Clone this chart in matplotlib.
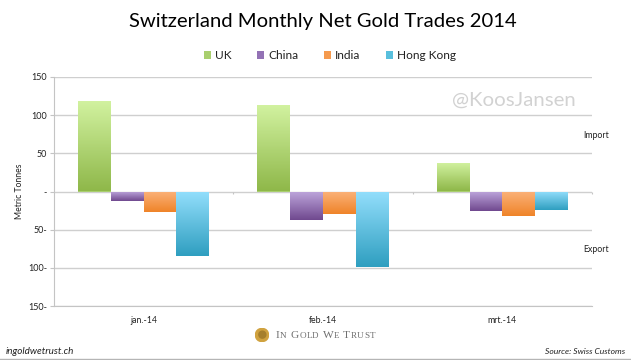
import matplotlib
matplotlib.use("Agg")
import matplotlib.pyplot as plt
from matplotlib.colors import LinearSegmentedColormap
import numpy as np

plt.rcParams["font.family"] = ["Lato", "DejaVu Sans"]

months = ["jan.-14", "feb.-14", "mrt.-14"]
uk = [118, 113, 37]
china = [-12, -37, -26]
india = [-27, -29, -32]
hong_kong = [-85, -99, -24]
y_ticks = [150, 100, 50, 0, -50, -100, -150]
y_labels = ["150", "100", "50", "-", "50-", "100-", "150-"]

W, H = 631, 360


def add_gradient(axes, bar, light, dark):
    # vertical fade laid over the bar and clipped to it
    cmap = LinearSegmentedColormap.from_list("bar", [light, dark])
    x0, y0 = bar.get_xy()
    x1 = x0 + bar.get_width()
    y1 = y0 + bar.get_height()
    img = axes.imshow(
        np.linspace(0, 1, 64).reshape(-1, 1),
        extent=(x0, x1, min(y0, y1), max(y0, y1)),
        cmap=cmap, aspect="auto", origin="upper", zorder=3,
    )
    img.set_clip_path(bar)


def small_caps(fig, x, y, words, big, small, color):
    # serif small caps for the logo line, advancing in pixels
    renderer = fig.canvas.get_renderer()
    for word in words:
        for i, ch in enumerate(word):
            size = big if i == 0 else small
            t = fig.text(x / W, 1 - y / H, ch.upper(), fontsize=size, color=color,
                         family="Liberation Serif", ha="left", va="baseline")
            x += t.get_window_extent(renderer).width + 0.4
        x += 3.5


def main():
    fig = plt.figure(figsize=(W / 100, H / 100), dpi=100, facecolor="white")
    ax = fig.add_axes([54 / W, 1 - 306 / H, 538 / W, 229 / H])

    series = [
        ("UK", uk, "#a9cf6e", "#d2f2a0", "#8fb84a"),
        ("China", china, "#9372b5", "#bea6dc", "#70498f"),
        ("India", india, "#f59a4e", "#fbb27a", "#ef8429"),
        ("Hong Kong", hong_kong, "#58bfdd", "#93defc", "#2f9fc0"),
    ]
    width = 0.183
    x = np.arange(len(months))
    handles = []
    for i, (name, values, mid, light, dark) in enumerate(series):
        bars = ax.bar(x + (i - 1.5) * width, values, width, color=mid, label=name, zorder=2)
        for bar in bars:
            add_gradient(ax, bar, light, dark)
        handles.append(bars)

    ax.set_xlim(-0.5, 2.5)
    ax.set_ylim(-150, 150)
    ax.set_xticks(x)
    ax.set_xticklabels(months, fontsize=6.3, color="#222222")
    ax.tick_params(axis="x", length=0, pad=7)
    ax.set_yticks(y_ticks)
    ax.set_yticklabels(y_labels, fontsize=6.5, color="#222222")
    ax.tick_params(axis="y", length=3, width=0.8, color="#c4c4c4", pad=2)
    ax.set_ylabel("Metric Tonnes", fontsize=6.2, color="#222222", labelpad=0)
    ax.yaxis.set_label_coords(-30 / 538, 0.5)
    ax.grid(True, axis="y", color="#cfcfcf", linewidth=1.0, zorder=0)
    ax.set_axisbelow(True)
    for side in ["top", "right"]:
        ax.spines[side].set_visible(False)
    for side in ["left", "bottom"]:
        ax.spines[side].set_color("#c4c4c4")
    ax.vlines([0.5, 1.5, 2.5], -3, 0, color="#c4c4c4", linewidth=0.8, zorder=1, clip_on=False)

    fig.text(322.5 / W, 1 - 21 / H, "Switzerland Monthly Net Gold Trades 2014",
             fontsize=14.6, color="black", ha="center", va="center")
    fig.legend(handles=handles, loc="center", bbox_to_anchor=(330 / W, 1 - 55.5 / H), ncol=4,
               frameon=False, fontsize=8.6, handlelength=0.6, handleheight=0.6,
               handletextpad=0.35, columnspacing=2.1, labelcolor="#222222")

    fig.text(514 / W, 1 - 100 / H, "@KoosJansen", fontsize=14.7, color="#d2d2d2", ha="center", va="center")
    fig.text(596 / W, 1 - 135 / H, "Import", fontsize=6.3, color="#222222", ha="center", va="center")
    fig.text(596 / W, 1 - 249 / H, "Export", fontsize=6.3, color="#222222", ha="center", va="center")

    coin = fig.add_axes([255 / W, 1 - 342 / H, 14 / W, 14 / H])
    coin.set_xlim(-1, 1)
    coin.set_ylim(-1, 1)
    coin.axis("off")
    coin.add_patch(plt.Circle((0, 0), 0.95, color="#d0a23f"))
    coin.add_patch(plt.Circle((0.05, 0.05), 0.5, color="#a67f2c"))

    fig.canvas.draw()
    small_caps(fig, 276, 338, ["In", "Gold", "We", "Trust"], 8.2, 6.6, "#6f6f6f")

    fig.text(6 / W, 1 - 351 / H, "ingoldwetrust.ch", fontsize=7.1, style="italic", color="#222222", ha="left", va="center")
    fig.text(625 / W, 1 - 351 / H, "Source: Swiss Customs", fontsize=6.1, style="italic", color="#222222", ha="right", va="center")
    fig.add_artist(plt.Line2D([0, 1], [1 - 358.5 / H] * 2, color="#b5b5b5", linewidth=1))

    plt.savefig("out.png", dpi=100)


if __name__ == "__main__":
    main()
